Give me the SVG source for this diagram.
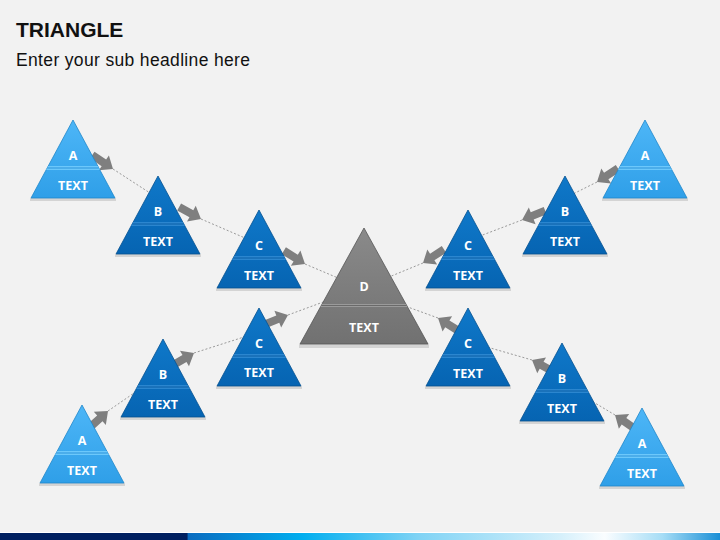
<svg xmlns="http://www.w3.org/2000/svg" xmlns:xlink="http://www.w3.org/1999/xlink" width="720" height="540" viewBox="0 0 720 540">
<defs>
<linearGradient id="gLight" x1="0" y1="0" x2="0" y2="1"><stop offset="0" stop-color="#4db6f7"/><stop offset="1" stop-color="#2f9fe8"/></linearGradient>
<linearGradient id="gDark" x1="0" y1="0" x2="0" y2="1"><stop offset="0" stop-color="#0f78c9"/><stop offset="1" stop-color="#0664b2"/></linearGradient>
<linearGradient id="gGray" x1="0" y1="0" x2="0" y2="1"><stop offset="0" stop-color="#8a8a8a"/><stop offset="1" stop-color="#717171"/></linearGradient>
<linearGradient id="gBar" x1="0" y1="0" x2="1" y2="0">
<stop offset="0" stop-color="#002060"/><stop offset="0.26" stop-color="#002060"/><stop offset="0.261" stop-color="#0a6cc0"/>
<stop offset="0.42" stop-color="#00aeef"/><stop offset="0.58" stop-color="#7fd3f5"/><stop offset="0.78" stop-color="#d6f0fb"/>
<stop offset="0.84" stop-color="#fafdff"/><stop offset="0.92" stop-color="#a6ddf6"/><stop offset="1" stop-color="#1a8fd6"/>
</linearGradient>
<path id="arr" d="M-25,-4 L-11,-4 L-11,-9 L0,0 L-11,9 L-11,4 L-25,4 Z"/>
</defs>
<style>
.bg{fill:#f2f2f2}
.title{font-family:"Liberation Sans",Arial,sans-serif;font-weight:bold;font-size:21px;fill:#111}
.sub{font-family:"Liberation Sans",Arial,sans-serif;font-size:17.5px;fill:#111}
.lbl{font-family:"Open Sans","Liberation Sans",Arial,sans-serif;font-weight:bold;font-size:12.5px;fill:#fff;text-anchor:middle}
.light .body{fill:url(#gLight);stroke:#1f86c9;stroke-width:0.8}
.light .band{fill:#6cc8fb}
.light .bline{stroke:#2a93da;stroke-width:1}
.dark .body{fill:url(#gDark);stroke:#05508f;stroke-width:0.8}
.dark .band{fill:#2b86cf}
.dark .bline{stroke:#0a5ea6;stroke-width:1}
.gray .body{fill:url(#gGray);stroke:#555;stroke-width:0.8}
.gray .band{fill:#9a9a9a}
.gray .bline{stroke:#6a6a6a;stroke-width:1}
.shadow{fill:#000;opacity:0.12}
.dot{stroke:#999;stroke-width:1;stroke-dasharray:2 2;fill:none}
.arrow{fill:#7f7f7f}
</style>
<rect class="bg" x="0" y="0" width="720" height="540"/>
<text class="title" x="16" y="37">TRIANGLE</text>
<text class="sub" x="16" y="66" textLength="234">Enter your sub headline here</text>

<g id="connectors">
<line class="dot" x1="113" y1="169" x2="150" y2="193"/>
<line class="dot" x1="201" y1="219" x2="245" y2="238"/>
<line class="dot" x1="305" y1="264" x2="338" y2="278"/>
<line class="dot" x1="108" y1="411" x2="137" y2="391"/>
<line class="dot" x1="194" y1="353" x2="244" y2="337"/>
<line class="dot" x1="288" y1="315" x2="326" y2="301"/>
<line class="dot" x1="597" y1="182" x2="573" y2="194"/>
<line class="dot" x1="522" y1="220" x2="480" y2="236"/>
<line class="dot" x1="423" y1="263" x2="389" y2="277"/>
<line class="dot" x1="438" y1="318" x2="405" y2="306"/>
<line class="dot" x1="532" y1="360" x2="487" y2="347"/>
<line class="dot" x1="615" y1="415" x2="590" y2="400"/>
<use class="arrow" xlink:href="#arr" href="#arr" transform="translate(113,169) rotate(34)"/>
<use class="arrow" xlink:href="#arr" href="#arr" transform="translate(201,219) rotate(29)"/>
<use class="arrow" xlink:href="#arr" href="#arr" transform="translate(305,264) rotate(32)"/>
<use class="arrow" xlink:href="#arr" href="#arr" transform="translate(108,411) rotate(-42)"/>
<use class="arrow" xlink:href="#arr" href="#arr" transform="translate(194,353) rotate(-30)"/>
<use class="arrow" xlink:href="#arr" href="#arr" transform="translate(288,315) rotate(-22)"/>
<use class="arrow" xlink:href="#arr" href="#arr" transform="translate(597,182) rotate(147)"/>
<use class="arrow" xlink:href="#arr" href="#arr" transform="translate(522,220) rotate(158)"/>
<use class="arrow" xlink:href="#arr" href="#arr" transform="translate(423,263) rotate(147)"/>
<use class="arrow" xlink:href="#arr" href="#arr" transform="translate(438,318) rotate(212)"/>
<use class="arrow" xlink:href="#arr" href="#arr" transform="translate(532,360) rotate(209)"/>
<use class="arrow" xlink:href="#arr" href="#arr" transform="translate(615,415) rotate(215)"/>
</g>

<g id="nodeLA1" class="light" transform="translate(73,120)">
<rect class="shadow" x="-43" y="78" width="86" height="3"/>
<path class="body" d="M0,0 L42,78 L-42,78 Z"/>
<path class="band" d="M-24.8,46 L24.8,46 L26.9,50 L-26.9,50 Z"/>
<line class="bline" x1="-25.8" y1="48" x2="25.8" y2="48"/>
<text class="lbl" x="0" y="39.5">A</text><text class="lbl" x="0" y="69.5">TEXT</text>
</g>
<g id="nodeLB1" class="dark" transform="translate(158,176)">
<rect class="shadow" x="-43" y="78" width="86" height="3"/>
<path class="body" d="M0,0 L42,78 L-42,78 Z"/>
<path class="band" d="M-24.8,46 L24.8,46 L26.9,50 L-26.9,50 Z"/>
<line class="bline" x1="-25.8" y1="48" x2="25.8" y2="48"/>
<text class="lbl" x="0" y="39.5">B</text><text class="lbl" x="0" y="69.5">TEXT</text>
</g>
<g id="nodeLC1" class="dark" transform="translate(259,210)">
<rect class="shadow" x="-43" y="78" width="86" height="3"/>
<path class="body" d="M0,0 L42,78 L-42,78 Z"/>
<path class="band" d="M-24.8,46 L24.8,46 L26.9,50 L-26.9,50 Z"/>
<line class="bline" x1="-25.8" y1="48" x2="25.8" y2="48"/>
<text class="lbl" x="0" y="39.5">C</text><text class="lbl" x="0" y="69.5">TEXT</text>
</g>
<g id="nodeLC2" class="dark" transform="translate(259,308)">
<rect class="shadow" x="-43" y="78" width="86" height="3"/>
<path class="body" d="M0,0 L42,78 L-42,78 Z"/>
<path class="band" d="M-24.8,46 L24.8,46 L26.9,50 L-26.9,50 Z"/>
<line class="bline" x1="-25.8" y1="48" x2="25.8" y2="48"/>
<text class="lbl" x="0" y="39.5">C</text><text class="lbl" x="0" y="68.5">TEXT</text>
</g>
<g id="nodeLB2" class="dark" transform="translate(163,339)">
<rect class="shadow" x="-43" y="78" width="86" height="3"/>
<path class="body" d="M0,0 L42,78 L-42,78 Z"/>
<path class="band" d="M-24.8,46 L24.8,46 L26.9,50 L-26.9,50 Z"/>
<line class="bline" x1="-25.8" y1="48" x2="25.8" y2="48"/>
<text class="lbl" x="0" y="39.5">B</text><text class="lbl" x="0" y="69.5">TEXT</text>
</g>
<g id="nodeLA2" class="light" transform="translate(82,405)">
<rect class="shadow" x="-43" y="78" width="86" height="3"/>
<path class="body" d="M0,0 L42,78 L-42,78 Z"/>
<path class="band" d="M-24.8,46 L24.8,46 L26.9,50 L-26.9,50 Z"/>
<line class="bline" x1="-25.8" y1="48" x2="25.8" y2="48"/>
<text class="lbl" x="0" y="39.5">A</text><text class="lbl" x="0" y="69.5">TEXT</text>
</g>
<g id="nodeRA1" class="light" transform="translate(645,120)">
<rect class="shadow" x="-43" y="78" width="86" height="3"/>
<path class="body" d="M0,0 L42,78 L-42,78 Z"/>
<path class="band" d="M-24.8,46 L24.8,46 L26.9,50 L-26.9,50 Z"/>
<line class="bline" x1="-25.8" y1="48" x2="25.8" y2="48"/>
<text class="lbl" x="0" y="39.5">A</text><text class="lbl" x="0" y="69.5">TEXT</text>
</g>
<g id="nodeRB1" class="dark" transform="translate(565,176)">
<rect class="shadow" x="-43" y="78" width="86" height="3"/>
<path class="body" d="M0,0 L42,78 L-42,78 Z"/>
<path class="band" d="M-24.8,46 L24.8,46 L26.9,50 L-26.9,50 Z"/>
<line class="bline" x1="-25.8" y1="48" x2="25.8" y2="48"/>
<text class="lbl" x="0" y="39.5">B</text><text class="lbl" x="0" y="69.5">TEXT</text>
</g>
<g id="nodeRC1" class="dark" transform="translate(468,210)">
<rect class="shadow" x="-43" y="78" width="86" height="3"/>
<path class="body" d="M0,0 L42,78 L-42,78 Z"/>
<path class="band" d="M-24.8,46 L24.8,46 L26.9,50 L-26.9,50 Z"/>
<line class="bline" x1="-25.8" y1="48" x2="25.8" y2="48"/>
<text class="lbl" x="0" y="39.5">C</text><text class="lbl" x="0" y="69.5">TEXT</text>
</g>
<g id="nodeRC2" class="dark" transform="translate(468,308)">
<rect class="shadow" x="-43" y="78" width="86" height="3"/>
<path class="body" d="M0,0 L42,78 L-42,78 Z"/>
<path class="band" d="M-24.8,46 L24.8,46 L26.9,50 L-26.9,50 Z"/>
<line class="bline" x1="-25.8" y1="48" x2="25.8" y2="48"/>
<text class="lbl" x="0" y="39.5">C</text><text class="lbl" x="0" y="69.5">TEXT</text>
</g>
<g id="nodeRB2" class="dark" transform="translate(562,343)">
<rect class="shadow" x="-43" y="78" width="86" height="3"/>
<path class="body" d="M0,0 L42,78 L-42,78 Z"/>
<path class="band" d="M-24.8,46 L24.8,46 L26.9,50 L-26.9,50 Z"/>
<line class="bline" x1="-25.8" y1="48" x2="25.8" y2="48"/>
<text class="lbl" x="0" y="39.5">B</text><text class="lbl" x="0" y="69.5">TEXT</text>
</g>
<g id="nodeRA2" class="light" transform="translate(642,408)">
<rect class="shadow" x="-43" y="78" width="86" height="3"/>
<path class="body" d="M0,0 L42,78 L-42,78 Z"/>
<path class="band" d="M-24.8,46 L24.8,46 L26.9,50 L-26.9,50 Z"/>
<line class="bline" x1="-25.8" y1="48" x2="25.8" y2="48"/>
<text class="lbl" x="0" y="39.5">A</text><text class="lbl" x="0" y="69.5">TEXT</text>
</g>
<g id="nodeD" class="gray" transform="translate(364,228)">
<rect class="shadow" x="-65" y="116" width="130" height="4"/>
<path class="body" d="M0,0 L64,116 L-64,116 Z"/>
<path class="band" d="M-41.9,76 L41.9,76 L43.6,79 L-43.6,79 Z"/>
<line class="bline" x1="-42.8" y1="77.5" x2="42.8" y2="77.5"/>
<text class="lbl" x="0" y="62.5">D</text><text class="lbl" x="0" y="103.5">TEXT</text>
</g>

<rect x="0" y="532" width="720" height="1" fill="#ffffff"/>
<rect x="0" y="533" width="720" height="7" fill="url(#gBar)"/>
</svg>
